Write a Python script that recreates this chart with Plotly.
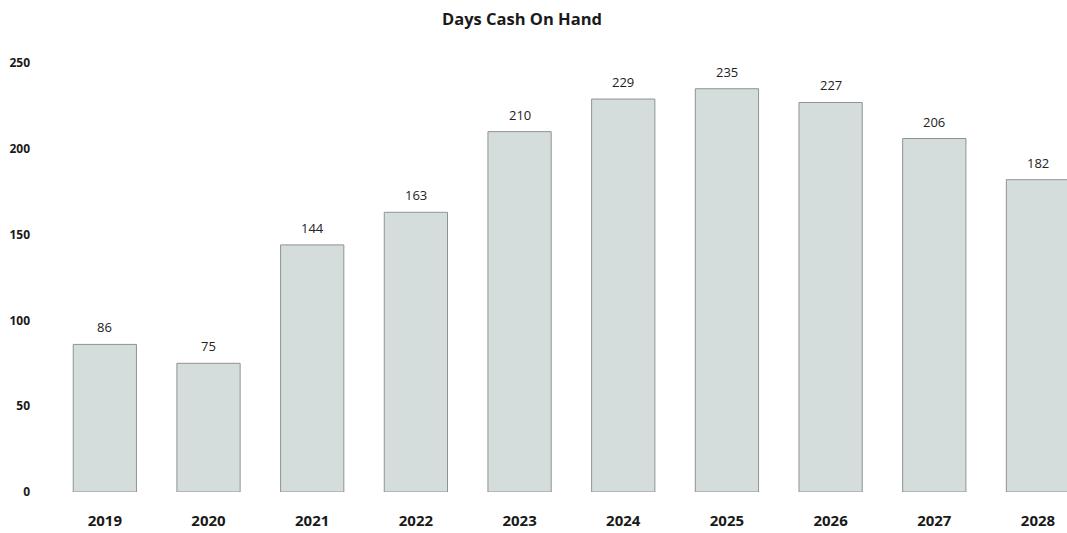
import plotly.graph_objects as go

years = ["2019", "2020", "2021", "2022", "2023", "2024", "2025", "2026", "2027", "2028"]
days_cash = [86, 75, 144, 163, 210, 229, 235, 227, 206, 182]
y_ticks = [0, 50, 100, 150, 200, 250]

fig = go.Figure()
fig.add_trace(go.Bar(
    x=years, y=days_cash,
    marker=dict(color="#d5dcdc", line=dict(color="#8f9393", width=1)),
    width=0.61,
    hoverinfo="skip",
))
for i, v in enumerate(days_cash):
    fig.add_annotation(x=i, y=v, xref="x", yref="y", text=str(v), showarrow=False, yshift=17,
                       font=dict(family="Open Sans", size=13, color="#222222"))

fig.update_layout(
    width=1067, height=533,
    margin=dict(l=53, r=0, t=63, b=41),
    paper_bgcolor="white", plot_bgcolor="white",
    showlegend=False,
    title=dict(text="Days Cash On Hand", x=522/1067, xanchor="center", y=1-19/533, yanchor="middle",
               font=dict(family="Open Sans", size=16.5, color="#1a1a1a", weight="bold")),
    font=dict(family="Open Sans", color="#1a1a1a"),
)
fig.update_xaxes(type="category", range=[-0.5, 9.28], showgrid=False, showline=False, ticks="",
                 tickfont=dict(size=15, weight="bold"), ticklabelstandoff=18)
fig.update_yaxes(range=[0, 250], tickvals=y_ticks, showgrid=False, zeroline=False, showline=False,
                 tickfont=dict(size=12, weight="bold"), ticklabelstandoff=22)

fig.write_html("out.html")
